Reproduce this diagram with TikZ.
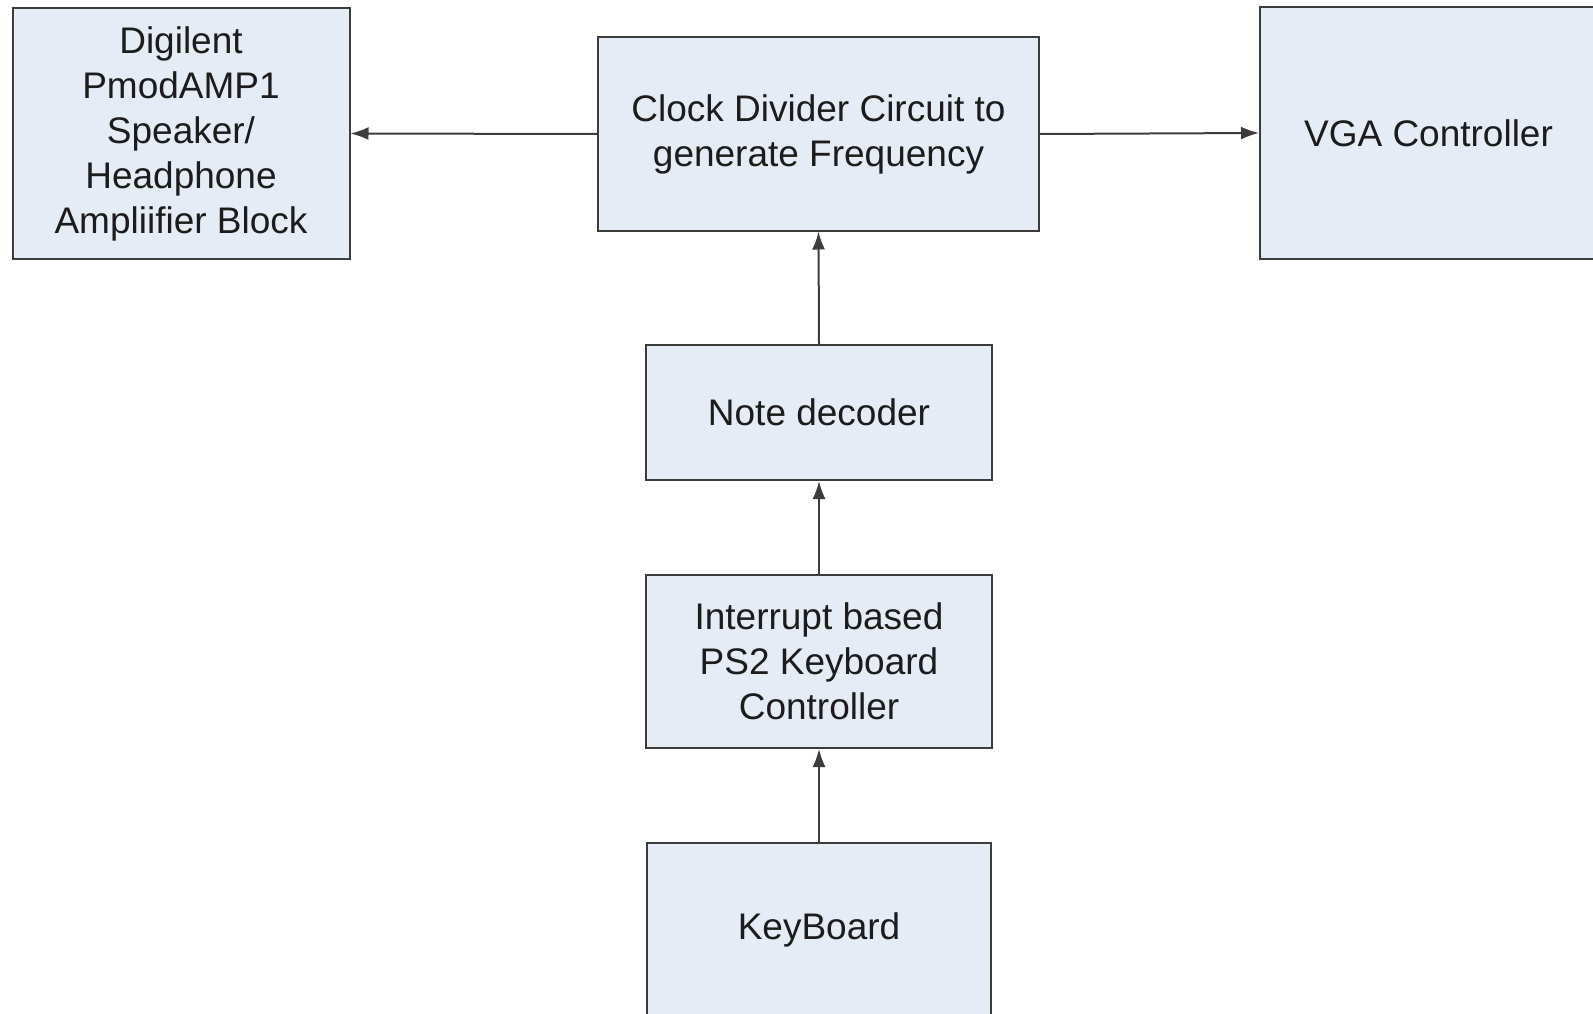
\documentclass[tikz,border=0pt]{standalone}
\usepackage{fontspec}
\setmainfont{Liberation Sans}
\usetikzlibrary{arrows.meta}
\definecolor{boxfill}{HTML}{E6ECF6}
\definecolor{boxline}{HTML}{3C3C3C}
\definecolor{boxtext}{HTML}{1C1C1C}
\begin{document}
\begin{tikzpicture}[x=1pt, y=-1pt]
    \tikzstyle{block} = [rectangle, draw=boxline, line width=2pt, fill=boxfill, text=boxtext, align=center, inner sep=0pt, font=\fontsize{37}{45}\selectfont]
    \tikzstyle{line} = [draw=boxline, line width=2pt, -{Latex[length=18pt, width=13pt]}]

    \useasboundingbox (0,0) rectangle (1593,1014);

    \node [block, minimum width=337pt, minimum height=251pt] (amp) at (181,133.5) {Digilent\\PmodAMP1\\Speaker/\\Headphone\\Ampliifier Block};
    \node [block, minimum width=441pt, minimum height=193pt] (clock) at (818.5,134) {Clock Divider Circuit to\\generate Frequency};
    \node [block, minimum width=337pt, minimum height=252pt] (vga) at (1428.5,133) {VGA Controller};
    \node [block, minimum width=346pt, minimum height=135pt] (note) at (819,412.5) {Note decoder};
    \node [block, minimum width=346pt, minimum height=173pt] (irq) at (819,661.5) {Interrupt based\\PS2 Keyboard\\Controller};
    \node [block, minimum width=344pt, minimum height=174pt] (kbd) at (819,930) {KeyBoard};

    \draw [line] (clock.west) -- (amp.east);
    \draw [line] (clock.east) -- (vga.west);
    \draw [line] (note.north) -- (clock.south);
    \draw [line] (irq.north) -- (note.south);
    \draw [line] (kbd.north) -- (irq.south);
\end{tikzpicture}
\end{document}
